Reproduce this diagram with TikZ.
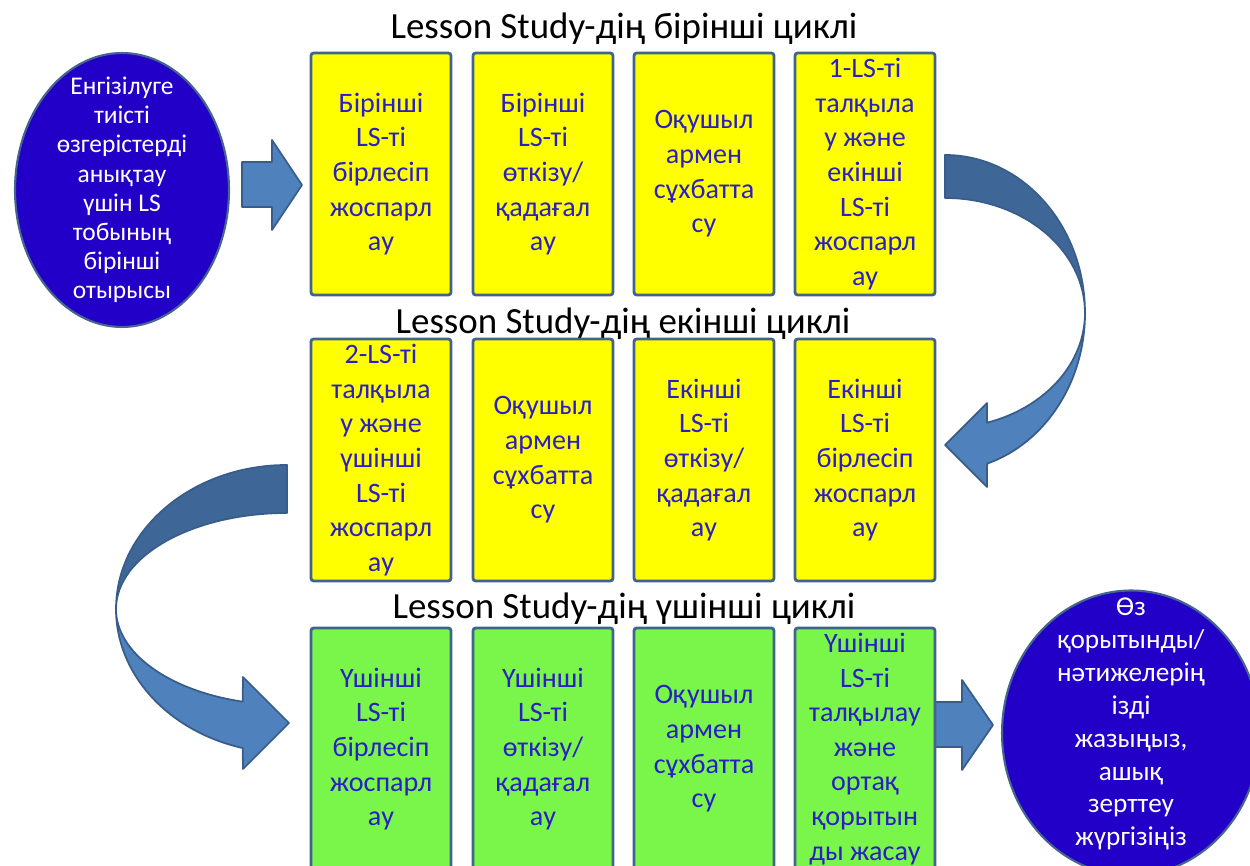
\documentclass[tikz,border=0pt]{standalone}
\usepackage{fontspec}
\setmainfont{Carlito}
\usetikzlibrary{shapes.geometric,backgrounds}

\definecolor{cellyellow}{HTML}{FFFF00}
\definecolor{cellgreen}{HTML}{7AF64B}
\definecolor{celledge}{HTML}{41648F}
\definecolor{cellink}{HTML}{2A1EC6}
\definecolor{ovalfill}{HTML}{2200C8}
\definecolor{ovaledge}{HTML}{46648E}
\definecolor{arrowlight}{HTML}{4F81BD}
\definecolor{arrowdark}{HTML}{3E6696}
\definecolor{arrowedge}{HTML}{385D8A}

\begin{document}
\begin{tikzpicture}[x=0.02cm, y=0.02cm,
  cell/.style={draw=celledge, line width=1.6pt, rounded corners=1.5pt,
    minimum width=2.8cm, minimum height=4.84cm, inner sep=0pt,
    align=center, text=cellink, font=\fontsize{16}{19.7}\selectfont},
  yellowcell/.style={cell, fill=cellyellow},
  greencell/.style={cell, fill=cellgreen},
  oval/.style={ellipse, draw=ovaledge, line width=1.2pt, fill=ovalfill, inner sep=0pt},
  ovaltext/.style={text=white, align=center, inner sep=0pt},
  cycletitle/.style={font=\fontsize{21}{25}\selectfont},
  frontarrow/.style={fill=arrowlight, draw=arrowedge, line width=1pt, line join=round},
  backarrow/.style={fill=arrowdark, draw=arrowedge, line width=1pt, line join=round}]

  \useasboundingbox (0,0) rectangle (1250,865);
  \clip (0,0) rectangle (1250,865);

  % Start - first meeting of the LS group
  \node[oval, minimum width=4.28cm, minimum height=5.48cm] (start) at (122,675) {};
  \node[ovaltext, font=\fontsize{14.5}{16.6}\selectfont] (startlabel) at (start.center)
    {Енгізілуге\\тиісті\\өзгерістерді\\анықтау\\үшін LS\\тобының\\бірінші\\отырысы};

  % First cycle
  \node[cycletitle] (title1) at (624,836) {Lesson Study-дің бірінші циклі};
  \node[yellowcell] (plan1) at (381,691) {Бірінші\\LS-ті\\бірлесіп\\жоспарл\\ау};
  \node[yellowcell] (teach1) at (543,691) {Бірінші\\LS-ті\\өткізу/\\қадағал\\ау};
  \node[yellowcell] (talk1) at (704,691) {Оқушыл\\армен\\сұхбатта\\су};
  \node[yellowcell] (review1) at (865,691) {1-LS-ті\\талқыла\\у және\\екінші\\LS-ті\\жоспарл\\ау};

  % Second cycle (read right to left)
  \node[cycletitle] (title2) at (623,541) {Lesson Study-дің екінші циклі};
  \node[yellowcell] (review2) at (381,405) {2-LS-ті\\талқыла\\у және\\үшінші\\LS-ті\\жоспарл\\ау};
  \node[yellowcell] (talk2) at (543,405) {Оқушыл\\армен\\сұхбатта\\су};
  \node[yellowcell] (teach2) at (704,405) {Екінші\\LS-ті\\өткізу/\\қадағал\\ау};
  \node[yellowcell] (plan2) at (865,405) {Екінші\\LS-ті\\бірлесіп\\жоспарл\\ау};

  % Third cycle
  \node[cycletitle] (title3) at (624,256) {Lesson Study-дің үшінші циклі};
  \node[greencell] (plan3) at (381,116) {Үшінші\\LS-ті\\бірлесіп\\жоспарл\\ау};
  \node[greencell] (teach3) at (543,116) {Үшінші\\LS-ті\\өткізу/\\қадағал\\ау};
  \node[greencell] (talk3) at (704,116) {Оқушыл\\армен\\сұхбатта\\су};
  \node[greencell] (review3) at (865,116) {Үшінші\\LS-ті\\талқылау\\және\\ортақ\\қорытын\\ды жасау};

  % Finish - write up and share
  \node[oval, minimum width=5.16cm, minimum height=5.7cm] (finish) at (1131,132) {};
  \node[ovaltext, font=\fontsize{15.5}{18.7}\selectfont] (finishlabel) at ([yshift=5pt] finish.center)
    {Өз\\қорытынды/\\нәтижелерің\\ізді\\жазыңыз,\\ашық\\зерттеу\\жүргізіңіз};

  % Block arrows behind the cells
  \begin{scope}[on background layer]
    % start -> first cycle
    \draw[frontarrow] (242,703) -- (272,703) -- (272,725) -- (302,680)
      -- (272,635) -- (272,658) -- (242,658) -- cycle;
    % first cycle -> second cycle
    \draw[backarrow] (945,710) arc[start angle=90, end angle=0, x radius=2.8cm, y radius=3.16cm]
      arc[start angle=0, end angle=90, x radius=2.8cm, y radius=2.3cm] -- cycle;
    \draw[frontarrow] (1085,552) arc[start angle=0, end angle=-72.5, x radius=2.8cm, y radius=3.16cm]
      -- (987,378) -- (945,420) -- (987,462) -- (987.1,442.3)
      arc[start angle=-72.5, end angle=0, x radius=2.8cm, y radius=2.3cm] -- cycle;
    % second cycle -> third cycle
    \draw[backarrow] (287,400) arc[start angle=90, end angle=180, x radius=3.42cm, y radius=2.88cm]
      arc[start angle=180, end angle=90, x radius=3.42cm, y radius=1.92cm] -- cycle;
    \draw[frontarrow] (116,256) arc[start angle=180, end angle=255, x radius=3.42cm, y radius=2.88cm]
      -- (243,96) -- (289,142) -- (243,188) -- (242.7,163.3)
      arc[start angle=255, end angle=180, x radius=3.42cm, y radius=1.92cm] -- cycle;
    % third cycle -> finish
    \draw[frontarrow] (930,163) -- (962,163) -- (962,185) -- (993,140)
      -- (962,95) -- (962,118) -- (930,118) -- cycle;
  \end{scope}
\end{tikzpicture}
\end{document}
